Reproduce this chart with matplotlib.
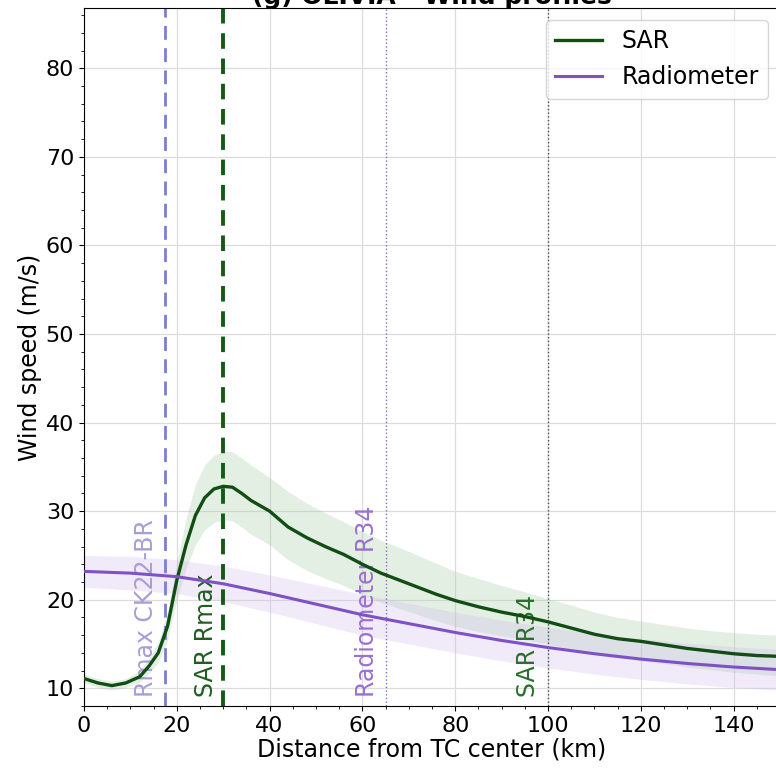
import matplotlib
matplotlib.use("Agg")
import matplotlib.pyplot as plt

# ---------------- data ----------------
sar_x = [0, 3, 6, 9, 12, 14, 16, 18, 20, 22, 24, 26, 28, 30, 32, 34, 36, 38, 40,
         44, 48, 52, 56, 60, 64, 68, 72, 76, 80, 85, 90, 95, 100, 105, 110, 115,
         120, 125, 130, 135, 140, 145, 150]
sar_y = [11.1, 10.6, 10.3, 10.6, 11.3, 12.5, 14.0, 17.0, 22.2, 26.2, 29.5, 31.5,
         32.5, 32.8, 32.7, 32.0, 31.2, 30.6, 30.0, 28.2, 27.0, 26.0, 25.1, 24.0,
         23.0, 22.2, 21.4, 20.6, 19.9, 19.2, 18.6, 18.1, 17.5, 16.8, 16.1, 15.6,
         15.3, 14.9, 14.5, 14.2, 13.9, 13.7, 13.6]
sar_upper = [11.6, 11.1, 10.8, 11.1, 12.0, 13.4, 15.2, 18.6, 24.2, 29.2, 33.0,
             35.2, 36.3, 36.8, 36.7, 36.0, 35.2, 34.5, 33.8, 32.2, 30.9, 29.8,
             28.8, 27.7, 26.7, 25.9, 25.0, 24.1, 23.2, 22.4, 21.6, 20.9, 20.1,
             19.4, 18.6, 18.0, 17.6, 17.2, 16.8, 16.5, 16.3, 16.1, 16.0]
sar_lower = [10.6, 10.1, 9.8, 10.1, 10.7, 11.7, 12.9, 15.4, 20.0, 23.5, 26.2,
             27.9, 28.7, 29.0, 28.9, 28.2, 27.4, 26.8, 26.2, 24.5, 23.3, 22.4,
             21.6, 20.6, 19.7, 19.0, 18.3, 17.6, 17.0, 16.4, 15.9, 15.5, 15.0,
             14.4, 13.8, 13.4, 13.1, 12.8, 12.4, 12.1, 11.8, 11.6, 11.4]

rad_x = [0, 10, 20, 30, 40, 50, 60, 70, 80, 90, 100, 110, 120, 130, 140, 150]
rad_y = [23.2, 23.0, 22.6, 21.8, 20.7, 19.5, 18.3, 17.3, 16.3, 15.4, 14.6, 13.9,
         13.3, 12.8, 12.4, 12.1]
rad_upper = [25.0, 24.9, 24.5, 23.8, 22.8, 21.7, 20.6, 19.6, 18.6, 17.7, 16.9,
             16.2, 15.6, 15.1, 14.7, 14.4]
rad_lower = [21.4, 21.1, 20.7, 19.8, 18.6, 17.3, 16.0, 15.0, 14.0, 13.1, 12.3,
             11.6, 11.0, 10.5, 10.1, 9.8]

ck22_rmax = 17.5
sar_rmax = 30
rad_r34 = 65
sar_r34 = 100

title = "(g) OLIVIA - Wind profiles"

# ---------------- style ----------------
sar_color = "#124d14"
rad_color = "#7e52c6"

fig = plt.figure(figsize=(7.76, 7.70), dpi=100)
ax = fig.add_axes([84 / 776, 64 / 770, 696 / 776, 698 / 770])

ax.fill_between(sar_x, sar_lower, sar_upper, color="#a8cca8", alpha=0.3, lw=0)
ax.fill_between(rad_x, rad_lower, rad_upper, color="#cdb8ec", alpha=0.28, lw=0)
ax.plot(sar_x, sar_y, color=sar_color, lw=2.4, label="SAR", zorder=4)
ax.plot(rad_x, rad_y, color=rad_color, lw=2.2, label="Radiometer", zorder=4)

ax.axvline(ck22_rmax, color="#7a7fd0", ls=(0, (5, 3)), lw=2.0)
ax.axvline(sar_rmax, color="#145a16", ls=(0, (4, 2.5)), lw=2.8)
ax.axvline(rad_r34, color="#8a68c8", ls=":", lw=1.0)
ax.axvline(sar_r34, color="#3d5a3d", ls=":", lw=1.0)

fs = 17
ax.text(ck22_rmax - 4.1, 9.0, "Rmax CK22-BR", rotation=90, ha="center",
        va="bottom", color="#a99cd8", fontsize=fs)
ax.text(sar_rmax - 3.8, 9.0, "SAR Rmax", rotation=90, ha="center",
        va="bottom", color="#1d5e1f", fontsize=fs)
ax.text(rad_r34 - 4.0, 9.0, "Radiometer R34", rotation=90, ha="center",
        va="bottom", color="#9a6fd0", fontsize=fs)
ax.text(sar_r34 - 4.3, 9.0, "SAR R34", rotation=90, ha="center",
        va="bottom", color="#2b6e2e", fontsize=fs)

ax.set_xlim(0, 150)
ax.set_ylim(8, 86.8)
ax.set_xticks([0, 20, 40, 60, 80, 100, 120, 140])
ax.set_yticks([10, 20, 30, 40, 50, 60, 70, 80])
ax.minorticks_on()
ax.grid(True, which="major", color="#dcdcdc", lw=0.9)
ax.set_axisbelow(True)
ax.tick_params(labelsize=16)
ax.set_xlabel("Distance from TC center (km)", fontsize=17, labelpad=1)
ax.set_ylabel("Wind speed (m/s)", fontsize=17, labelpad=3)

leg = ax.legend(loc="upper right", fontsize=17, framealpha=0.8)

fig.text(432 / 776, 1 - 4 / 770, title, ha="center", va="baseline",
         fontsize=18, fontweight="bold")

fig.savefig("out.png", dpi=100)
